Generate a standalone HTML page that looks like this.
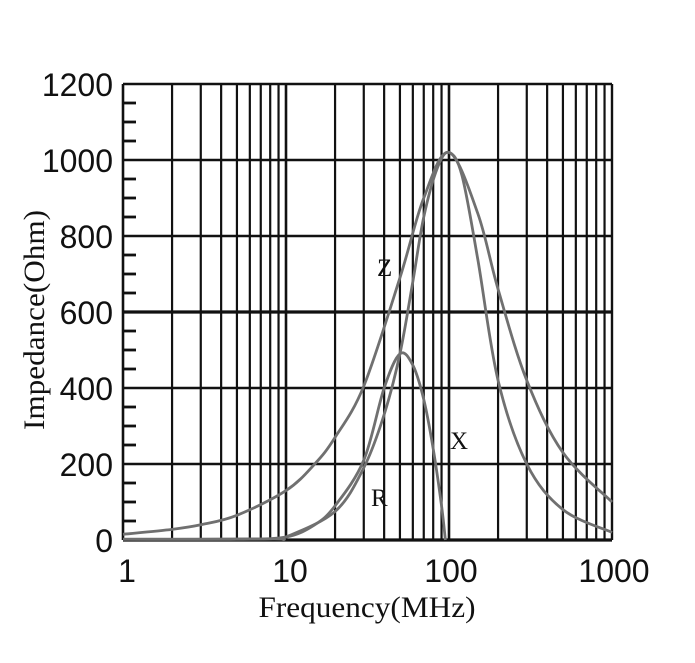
<!DOCTYPE html>
<html><head><meta charset="utf-8"><style>
html,body{margin:0;padding:0;background:#fff;}
svg{display:block;}
text{font-family:"Liberation Sans",sans-serif;fill:#111;}
</style></head><body>
<svg id="s" width="695" height="663" viewBox="0 0 695 663" xmlns="http://www.w3.org/2000/svg">
<g id="grid" stroke="#111" fill="none"></g>
<g id="curves" fill="none" stroke="#707070" stroke-width="2.8"></g>
<g font-size="32">
<text x="113" y="96" text-anchor="end">1200</text>
<text x="113" y="172" text-anchor="end">1000</text>
<text x="113" y="248" text-anchor="end">800</text>
<text x="113" y="324" text-anchor="end">600</text>
<text x="113" y="400" text-anchor="end">400</text>
<text x="113" y="476" text-anchor="end">200</text>
<text x="113" y="552" text-anchor="end">0</text>
<text x="127" y="582" text-anchor="middle">1</text>
<text x="290" y="582" text-anchor="middle">10</text>
<text x="451" y="582" text-anchor="middle">100</text>
<text x="614" y="582" text-anchor="middle">1000</text>
</g>
<text x="367" y="617" text-anchor="middle" font-size="30" textLength="217" lengthAdjust="spacingAndGlyphs" style="font-family:'Liberation Serif',serif">Frequency(MHz)</text>
<text transform="translate(44,320) rotate(-90)" text-anchor="middle" font-size="30" textLength="220" lengthAdjust="spacingAndGlyphs" style="font-family:'Liberation Serif',serif">Impedance(Ohm)</text>
<text x="377" y="276" font-size="25" fill="#555" style="font-family:'Liberation Serif',serif">Z</text>
<text x="450" y="449" font-size="25" fill="#555" style="font-family:'Liberation Serif',serif">X</text>
<text x="371" y="506" font-size="25" fill="#555" style="font-family:'Liberation Serif',serif">R</text>
</svg>
<script>
var L=123,R=612,Y0=540,YT=84;
function px(f){return L+(R-L)/3*Math.log10(f);}
function py(v){return Y0-(Y0-YT)*v/1200;}
var g=document.getElementById('grid'),h='';
for(var d=0;d<3;d++)for(var k=1;k<10;k++){var x=px(k*Math.pow(10,d));h+='<line x1="'+x+'" y1="'+YT+'" x2="'+x+'" y2="'+Y0+'" stroke-width="'+(k==1?2.6:2.2)+'"/>';}
h+='<line x1="'+R+'" y1="'+YT+'" x2="'+R+'" y2="'+Y0+'" stroke-width="2.4"/>';
for(var v=0;v<=1200;v+=200){var y=py(v);h+='<line x1="'+L+'" y1="'+y+'" x2="'+R+'" y2="'+y+'" stroke-width="'+(v==600||v==0?3.2:2.4)+'"/>';}
for(var v=50;v<1200;v+=50){if(v%200==0)continue;var y=py(v);h+='<line x1="'+L+'" y1="'+y+'" x2="'+(L+13)+'" y2="'+y+'" stroke-width="2.8"/>';}
g.innerHTML=h;
function path(pts){
 var P=pts.map(function(p){return [px(p[0]),py(p[1])];});
 var d='M'+P[0][0]+' '+P[0][1];
 for(var i=0;i<P.length-1;i++){
  var p0=P[i-1]||P[i],p1=P[i],p2=P[i+1],p3=P[i+2]||P[i+1];
  var c1=[p1[0]+(p2[0]-p0[0])/6,p1[1]+(p2[1]-p0[1])/6];
  var c2=[p2[0]-(p3[0]-p1[0])/6,p2[1]-(p3[1]-p1[1])/6];
  d+=' C'+c1[0]+' '+c1[1]+' '+c2[0]+' '+c2[1]+' '+p2[0]+' '+p2[1];
 }
 return '<path d="'+d+'"/>';
}
var Z=[[1,15],[2,28],[3,40],[5,65],[10,130],[15,200],[20,270],[30,405],[50,690],[70,900],[100,1020],[150,860],[200,660],[300,420],[500,230],[1000,100]];
var X=[[1,2],[5,2],[10,8],[15,40],[20,90],[30,210],[40,400],[50,490],[60,460],[70,370],[80,240],[90,90],[95,0]];
var Rr=[[1,2],[8,3],[10,8],[20,75],[30,190],[40,330],[50,490],[60,680],[70,850],[85,980],[100,1020],[120,960],[150,740],[200,420],[300,200],[500,80],[1000,20]];
document.getElementById('curves').innerHTML=path(Z)+path(X)+path(Rr);
</script>
</body></html>
